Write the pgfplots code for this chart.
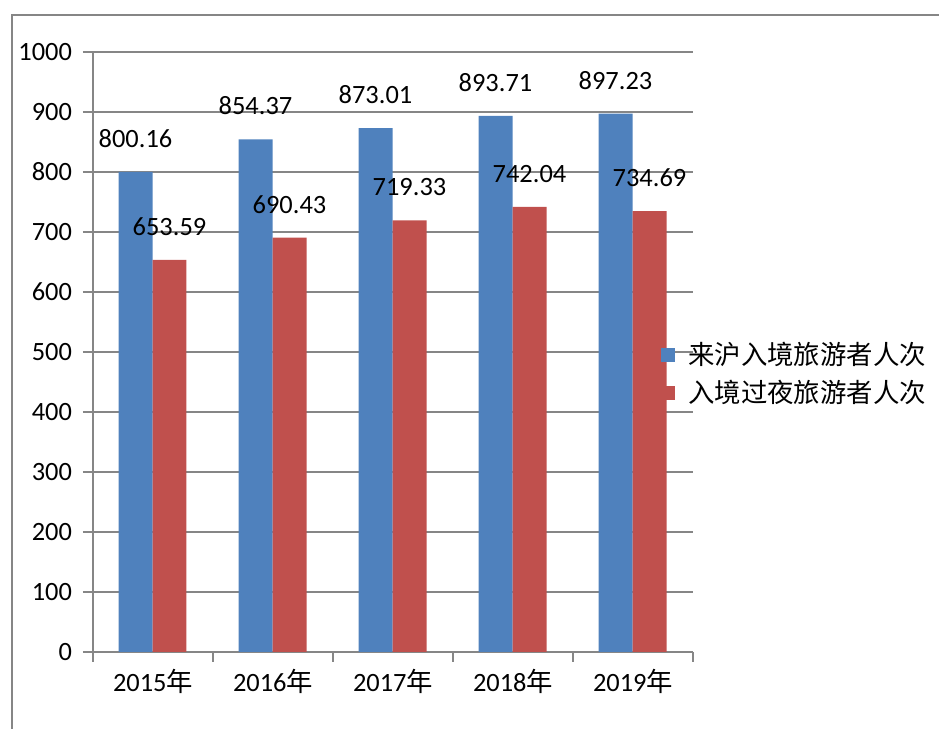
\documentclass[border=0pt]{standalone}
\usepackage{fontspec}
\setmainfont{Carlito}
\newfontfamily\cjk{Noto Sans CJK SC}
\usepackage{pgfplots}
\pgfplotsset{compat=1.18}
\definecolor{barblue}{HTML}{4F81BD}
\definecolor{barred}{HTML}{C0504D}
\definecolor{gridgray}{HTML}{868686}
\begin{document}
\fontsize{26.5}{30}\selectfont
\begin{tikzpicture}
\path[use as bounding box] (0,0) rectangle (939bp,729bp);
\draw[gridgray, line width=1.5bp] (12bp,0) -- (12bp,714bp) -- (939bp,714bp);
\begin{axis}[
  at={(93bp,77bp)}, anchor=south west,
  scale only axis, width=600bp, height=600bp,
  xmin=-0.5, xmax=4.5, ymin=0, ymax=1000,
  axis lines*=left,
  axis line style={gridgray, line width=1.3bp, -},
  ytick={0,100,...,1000},
  xtick={-0.5,0.5,1.5,2.5,3.5,4.5},
  xticklabels={},
  extra x ticks={0,1,2,3,4},
  extra x tick labels={2015{\cjk 年},2016{\cjk 年},2017{\cjk 年},2018{\cjk 年},2019{\cjk 年}},
  extra x tick style={major tick length=0pt, grid=none},
  tick align=outside,
  major tick length=10bp,
  tick style={gridgray, line width=1.3bp},
  ymajorgrids,
  major grid style={gridgray, line width=1.3bp},
  ticklabel style={font=\fontsize{26.5}{30}\selectfont, text=black},
  /pgf/number format/assume math mode=true,
  /pgf/number format/1000 sep={},
  yticklabel style={xshift=-2bp},
  xticklabel style={yshift=-8bp},
  legend style={at={(0.9467,0.4633)}, anchor=west, draw=none, fill=none,
    inner sep=0pt, row sep=12bp, font=\cjk\fontsize{26.5}{30}\selectfont,
    nodes={inner xsep=0pt, inner ysep=0pt, anchor=west},
    /tikz/column 2/.style={column sep=0pt}},
  legend cell align=left,
  legend image code/.code={\fill[#1] (0bp,-7bp) rectangle (14bp,7bp); \path (27bp,0bp);},
  every node near coord/.append style={inner sep=0pt, yshift=24bp, text=black,
    font=\fontsize{26.5}{30}\selectfont},
  nodes near coords={\pgfmathprintnumber[fixed,fixed zerofill,precision=2]{\pgfplotspointmeta}},
]
\addplot[ybar, bar width=0.2833, bar shift=-0.1458, fill=barblue, draw=none,
  every node near coord/.append style={xshift=-17.5bp}]
  coordinates {(0,800.16) (1,854.37) (2,873.01) (3,893.71) (4,897.23)};
\addlegendentry{来沪入境旅游者人次}
\addplot[ybar, bar width=0.2833, bar shift=0.1375, fill=barred, draw=none,
  every node near coord/.append style={xshift=16.5bp}]
  coordinates {(0,653.59) (1,690.43) (2,719.33) (3,742.04) (4,734.69)};
\addlegendentry{入境过夜旅游者人次}
\end{axis}
\end{tikzpicture}
\end{document}
